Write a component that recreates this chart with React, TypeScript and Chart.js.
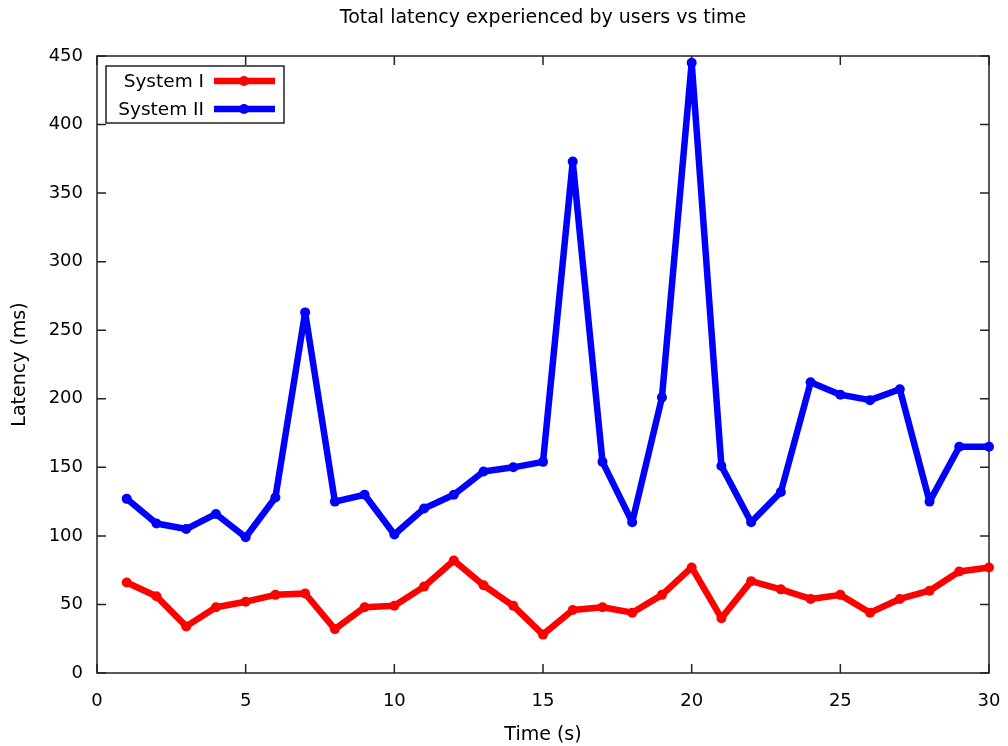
import React, { useEffect, useRef } from "react";
import { Chart, registerables } from "chart.js";

Chart.register(...registerables);

const timeSeconds = [1, 2, 3, 4, 5, 6, 7, 8, 9, 10, 11, 12, 13, 14, 15, 16, 17, 18, 19, 20, 21, 22, 23, 24, 25, 26, 27, 28, 29, 30];
const systemI = [66, 56, 34, 48, 52, 57, 58, 32, 48, 49, 63, 82, 64, 49, 28, 46, 48, 44, 57, 77, 40, 67, 61, 54, 57, 44, 54, 60, 74, 77];
const systemII = [127, 109, 105, 116, 99, 128, 263, 125, 130, 101, 120, 130, 147, 150, 154, 373, 154, 110, 201, 445, 151, 110, 132, 212, 203, 199, 207, 125, 165, 165];
const xTickValues = [0, 5, 10, 15, 20, 25, 30];
const yTickValues = [0, 50, 100, 150, 200, 250, 300, 350, 400, 450];
const seriesLabels = ["System I", "System II"];
const seriesColors = ["#ff0000", "#0000ff"];

const FONT = "'DejaVu Sans', sans-serif";
const TICK_SIZE = 18;
const TITLE_SIZE = 19;
const LEGEND_SIZE = 18.5;

const framePlugin = {
  id: "frame",
  beforeDatasetsDraw(chart: any) {
    const { ctx, chartArea, scales } = chart;
    const { left, right, top, bottom } = chartArea;
    const x = scales.x;
    const y = scales.y;
    ctx.save();
    ctx.strokeStyle = "#222222";
    ctx.lineWidth = 1.5;
    ctx.strokeRect(left, top, right - left, bottom - top);
    ctx.beginPath();
    const len = 9;
    for (const t of x.ticks) {
      const px = x.getPixelForValue(t.value);
      ctx.moveTo(px, bottom);
      ctx.lineTo(px, bottom - len);
      ctx.moveTo(px, top);
      ctx.lineTo(px, top + len);
    }
    for (const t of y.ticks) {
      const py = y.getPixelForValue(t.value);
      ctx.moveTo(left, py);
      ctx.lineTo(left + len, py);
      ctx.moveTo(right, py);
      ctx.lineTo(right - len, py);
    }
    ctx.stroke();
    ctx.restore();
  },
};

const legendPlugin = {
  id: "boxLegend",
  afterDatasetsDraw(chart: any) {
    const { ctx, chartArea } = chart;
    const boxLeft = chartArea.left + 9;
    const boxTop = chartArea.top + 10;
    const boxW = 178;
    const boxH = 57;
    ctx.save();
    ctx.fillStyle = "#ffffff";
    ctx.fillRect(boxLeft, boxTop, boxW, boxH);
    ctx.strokeStyle = "#222222";
    ctx.lineWidth = 1.5;
    ctx.strokeRect(boxLeft, boxTop, boxW, boxH);
    ctx.font = `${LEGEND_SIZE}px ${FONT}`;
    ctx.textAlign = "right";
    ctx.textBaseline = "middle";
    chart.data.datasets.forEach((ds: any, i: number) => {
      const cy = boxTop + 15 + i * 28;
      ctx.fillStyle = "#000000";
      ctx.fillText(ds.label, boxLeft + 98, cy + 1);
      ctx.strokeStyle = ds.borderColor;
      ctx.lineWidth = 6.5;
      ctx.lineCap = "butt";
      ctx.beginPath();
      ctx.moveTo(boxLeft + 108, cy);
      ctx.lineTo(boxLeft + 169, cy);
      ctx.stroke();
      ctx.fillStyle = ds.borderColor;
      ctx.beginPath();
      ctx.arc(boxLeft + 138, cy, 5, 0, Math.PI * 2);
      ctx.fill();
    });
    ctx.restore();
  },
};

export default function App() {
  const canvasRef = useRef<HTMLCanvasElement | null>(null);

  useEffect(() => {
    if (!canvasRef.current) return;
    const seriesValues = [systemI, systemII];
    const chart = new Chart(canvasRef.current, {
      type: "line",
      data: {
        datasets: seriesValues.map((vals, i) => ({
          label: seriesLabels[i],
          data: timeSeconds.map((t, j) => ({ x: t, y: vals[j] })),
          borderColor: seriesColors[i],
          backgroundColor: seriesColors[i],
          borderWidth: 6.5,
          pointRadius: 5,
          pointBorderWidth: 0,
          pointBackgroundColor: seriesColors[i],
          tension: 0,
          clip: false as any,
          borderJoinStyle: "round" as any,
        })),
      },
      options: {
        responsive: false,
        animation: false,
        layout: { padding: { left: 0, right: 19, top: 0, bottom: 0 } },
        plugins: {
          legend: { display: false },
          tooltip: { enabled: false },
          title: {
            display: true,
            fullSize: false,
            text: "Total latency experienced by users vs time",
            color: "#000000",
            font: { family: FONT, size: TITLE_SIZE, weight: "normal" },
            padding: { top: 6.6, bottom: 26.6 },
          },
        },
        scales: {
          x: {
            type: "linear",
            min: 0,
            max: 30,
            afterBuildTicks: (scale: any) => {
              scale.ticks = xTickValues.map((v) => ({ value: v }));
            },
            afterFit: (scale: any) => {
              scale.height = 73;
              scale.paddingLeft = 0;
              scale.paddingRight = 0;
            },
            grid: { display: false, drawTicks: false },
            border: { display: false },
            ticks: {
              color: "#000000",
              padding: 18,
              font: { family: FONT, size: TICK_SIZE },
              maxRotation: 0,
            },
            title: {
              display: true,
              text: "Time (s)",
              color: "#000000",
              font: { family: FONT, size: TITLE_SIZE },
              padding: { top: 0, bottom: 0 },
            },
          },
          y: {
            type: "linear",
            min: 0,
            max: 450,
            afterBuildTicks: (scale: any) => {
              scale.ticks = yTickValues.map((v) => ({ value: v }));
            },
            afterFit: (scale: any) => {
              scale.width = 97;
              scale.paddingTop = 0;
              scale.paddingBottom = 0;
            },
            grid: { display: false, drawTicks: false },
            border: { display: false },
            ticks: {
              color: "#000000",
              padding: 14,
              font: { family: FONT, size: TICK_SIZE },
            },
            title: {
              display: true,
              text: "Latency (ms)",
              color: "#000000",
              font: { family: FONT, size: TITLE_SIZE },
              padding: { top: 8.6, bottom: 0 },
            },
          },
        },
      },
      plugins: [framePlugin, legendPlugin],
    });
    return () => chart.destroy();
  }, []);

  return (
    <div style={{ position: "absolute", left: 0, top: 0, width: 1008, height: 746, background: "#ffffff" }}>
      <canvas ref={canvasRef} width={1008} height={746} style={{ display: "block" }} />
    </div>
  );
}
